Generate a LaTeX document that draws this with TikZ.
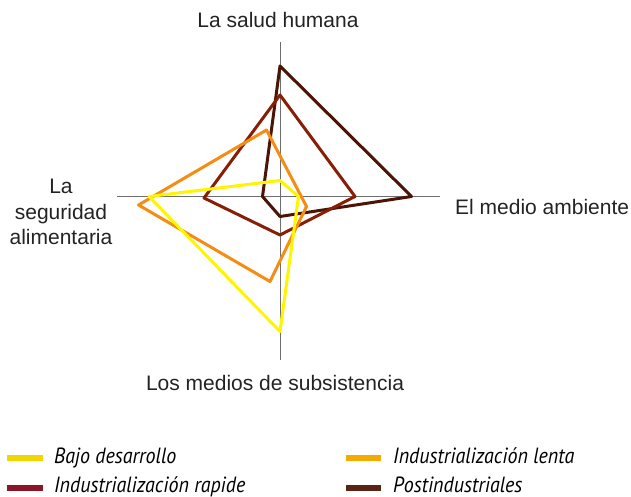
\documentclass[tikz,border=0pt]{standalone}
\usepackage{fontspec}
\setmainfont{Liberation Sans}
\newfontfamily\legfont[FakeStretch=0.91]{PT Sans}
\definecolor{cyel}{RGB}{255,245,0}
\definecolor{cora}{RGB}{245,140,20}
\definecolor{crap}{RGB}{135,30,5}
\definecolor{cpost}{RGB}{75,20,5}
\definecolor{lyel}{RGB}{240,215,0}
\definecolor{lora}{RGB}{245,170,0}
\definecolor{lrap}{RGB}{140,20,40}
\definecolor{lpost}{RGB}{90,35,20}
\definecolor{axisgray}{RGB}{110,110,110}
\definecolor{txt}{RGB}{35,35,35}
\tikzset{
  axisline/.style={draw=axisgray,line width=1pt},
  poly/.style={line width=3pt,line join=round},
  lbl/.style={text=txt,font=\fontsize{21}{25.5}\selectfont,inner sep=0pt},
  legline/.style={line width=5.5pt},
  legtxt/.style={font=\legfont\itshape\fontsize{22}{26}\selectfont,anchor=base west,inner sep=0pt,text=black},
}
\begin{document}
\begin{tikzpicture}[x=1pt,y=-1pt]
\useasboundingbox (0,0) rectangle (631,497);
% axes
\coordinate (axL) at (117,196);
\coordinate (axR) at (440,196);
\coordinate (axT) at (280,42);
\coordinate (axB) at (280,360);
\draw[axisline] (axL) -- (axR);
\draw[axisline] (axT) -- (axB);
% polygons
\draw[poly,cpost] (280,66) -- (411.5,196.5) -- (280,216.5) -- (262.5,196.5) -- cycle;
\draw[poly,crap] (280,95) -- (355,196.5) -- (280,235) -- (204,198) -- cycle;
\draw[poly,cora] (266.5,130) -- (306.5,206.5) -- (270,281.5) -- (138.5,205) -- cycle;
\draw[poly,cyel] (280,180.5) -- (298.5,196.5) -- (280,331.5) -- (149,196.5) -- cycle;
% labels
\node[lbl] (salud) at (278,20) {La salud humana};
\node[lbl,anchor=west] (medio) at (455,207) {El medio ambiente};
\node[lbl,align=center] (seg) at (61,212) {La\\seguridad\\alimentaria};
\node[lbl] (subs) at (275,383) {Los medios de subsistencia};
% legend
\coordinate (l1a) at (7,458); \coordinate (l1b) at (43,458);
\coordinate (l2a) at (7,488); \coordinate (l2b) at (43,488);
\coordinate (l3a) at (346,458); \coordinate (l3b) at (381,458);
\coordinate (l4a) at (346,488); \coordinate (l4b) at (381,488);
\draw[legline,lyel] (l1a) -- (l1b);
\draw[legline,lrap] (l2a) -- (l2b);
\draw[legline,lora] (l3a) -- (l3b);
\draw[legline,lpost] (l4a) -- (l4b);
\node[legtxt] (t1) at (54,463) {Bajo desarrollo};
\node[legtxt] (t2) at (54,492) {Industrialización rapide};
\node[legtxt] (t3) at (393,463) {Industrialización lenta};
\node[legtxt] (t4) at (393,492) {Postindustriales};
\end{tikzpicture}
\end{document}
